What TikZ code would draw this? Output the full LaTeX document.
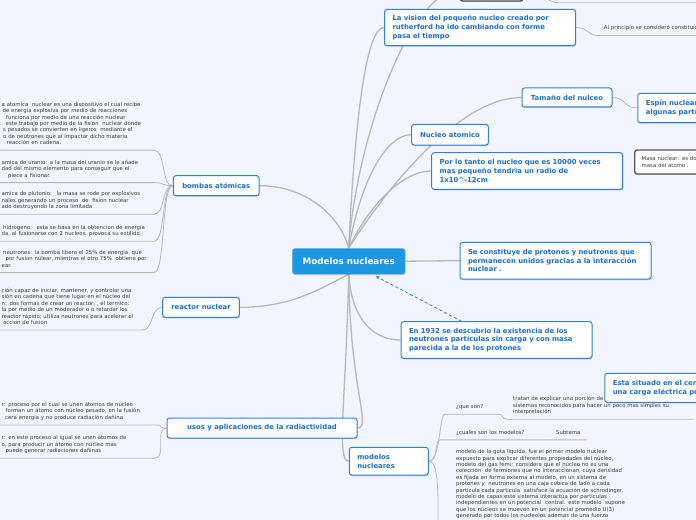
\documentclass[tikz,border=0pt]{standalone}
\usepackage{fontspec}
\setmainfont{DejaVu Sans}
\usetikzlibrary{arrows.meta,backgrounds,shadows}

\definecolor{canvas}{RGB}{242,245,253}
\definecolor{topicline}{RGB}{47,128,226}
\definecolor{topictext}{RGB}{28,110,208}
\definecolor{rootfill}{RGB}{27,151,227}
\definecolor{linkgray}{RGB}{184,184,184}
\definecolor{notetext}{RGB}{60,60,60}
\definecolor{noteline}{RGB}{85,85,85}

\begin{document}
\begin{tikzpicture}[x=1bp,y=-1bp,>=Stealth,line cap=round,line join=round,
    lift/.style={drop shadow={shadow xshift=0.4bp,shadow yshift=-1bp,opacity=0.22,fill=black}},
    root/.style={fill=rootfill,text=white,rounded corners=2.5bp,lift,
      font=\bfseries\fontsize{8.8}{10}\selectfont,minimum width=112.7bp,minimum height=25.7bp},
    topic/.style={draw=topicline,fill=white,line width=1bp,rounded corners=2.5bp,lift,
      text=topictext,font=\bfseries\fontsize{6.9}{8.6}\selectfont,align=left,inner xsep=8bp},
    boxnote/.style={draw=noteline,fill=white,line width=1.4bp,rounded corners=2.5bp,lift,
      text=notetext,font=\fontsize{5.4}{6.4}\selectfont,align=left,inner xsep=7bp},
    leaf/.style={text=notetext,font=\fontsize{5.4}{6.4}\selectfont,align=left,anchor=north west,
      inner xsep=0pt,inner ysep=3.5bp,execute at begin node=\strut,execute at end node=\strut},
    link/.style={draw=linkgray,line width=1.3bp},
    twig/.style={draw=linkgray,line width=0.8bp},
    relation/.style={draw=topicline,line width=0.8bp,dash pattern=on 3bp off 2.5bp,
      -{Stealth[length=4bp,width=3.5bp]}}]
  \useasboundingbox (0,0) rectangle (696,520);

  % central topic
  \node[root] (root) at (348.7,261.2) {Modelos nucleares};

  % right side
  \node[boxnote,minimum width=63bp,minimum height=22bp] (topbox) at (491.5,-10) {};
  \coordinate (topleaf) at (557,2.7);
  \node[topic,text width=175bp,minimum height=36.4bp] (vision) at (480,27.5)
    {La vision del pequeño nucleo creado por\\rutherford ha ido cambiando con forme\\pasa el tiempo};
  \node[leaf,text width=150bp] (principio) at (603.7,21.7)
    {Al principio se consideró constituído por};
  \node[topic,minimum width=90bp,minimum height=19bp] (tamano) at (567,97.5) {Tamaño del nulceo};
  \node[topic,anchor=west,text width=150bp,minimum height=29.4bp] (espin) at (637.3,108)
    {Espín nuclear: es una propiedad de\\algunas partículas};
  \node[topic,minimum width=76.6bp,minimum height=20.7bp] (nucleo) at (450,134.7) {Nucleo atomico};
  \node[topic,text width=175bp,minimum height=36.6bp] (portanto) at (527.2,171)
    {Por lo tanto el nucleo que es 10000 veces\\mas pequeño tendria un radio de\\1x10\textasciicircum-12cm};
  \node[boxnote,anchor=west,text width=150bp,minimum height=24bp] (masa) at (634,162)
    {Masa nuclear: es donde se concentra la\\masa del atomo .};
  \node[topic,text width=175bp,minimum height=36.7bp] (constituye) at (555.5,260.7)
    {Se constituye de protones y neutrones que\\permanecen unidos gracias a la interacción\\nuclear .};
  \node[topic,text width=175bp,minimum height=36.6bp] (en1932) at (496.5,340)
    {En 1932 se descubrio la existencia de los\\neutrones partículas sin carga y con masa\\parecida a la de los protones};

  % modelos nucleares and its leaves
  \node[topic,text width=63bp,minimum height=27.7bp] (modelos) at (388.8,461.2) {modelos\\nucleares};
  \node[leaf,text width=42bp] (queson) at (456,400.4) {¿que son?};
  \node[leaf,text width=180bp] (tratan) at (513,392.7)
    {tratan de explicar una porción de los\\sistemas reconocidos para hacer un poco mas simples su\\interpretación};
  \node[leaf,text width=76bp] (cuales) at (456,426.1) {¿cuales son los modelos?};
  \node[leaf,text width=30bp] (subtema) at (556,426.1) {Subtema};
  \node[leaf,text width=205bp] (gota) at (456,445.7)
    {modelo de la gota liquida, fue el primer modelo nuclear\\
     expuesto para explicar diferentes propiedades del núcleo,\\
     modelo del gas femi: considera que el núcleo no es una\\
     colección \ de fermiones que no interaccionan, cuya densidad\\
     es fijada en forma externa al modelo, en un sistema de\\
     protones y \ neutrones en una caja cubica de lado a cada\\
     particula cada particula \ satisface la ecuación de schrodinger.\\
     modelo de capas:este sistema interactúa por particulas\\
     independientes en un potencial \ central. este modelo \ supone\\
     que los núcleos se mueven en un potencial promedio U(3)\\
     generado por todos los nucleolos ademas de una fuerza};
  \node[topic,anchor=west,text width=200bp,minimum height=29bp] (situado) at (604.3,387.8)
    {Esta situado en el centro del átomo y tiene\\una carga eléctrica positiva};

  % left side
  \node[topic,minimum width=85.7bp,minimum height=20bp] (bombas) at (216.2,185.7) {bombas atómicas};
  \node[leaf,text width=152bp] (bombA) at (1.5,98.1)
    {a atomica \ nuclear es una dispositivo el cual recibe\\
     \hspace*{1bp}de energia explosiva por medio de reacciones\\
     \hspace*{4.5bp}funciona por medio de una reacción nuclear\\
     \hspace*{4bp}este trabajo por medio de la fision \ nuclear donde\\
     \hspace*{1.5bp}s pesados se convierten en ligeros \ mediante el\\
     \hspace*{1.5bp}o de neutrones que al impactar dicho materia\\
     \hspace*{5bp}reacción en cadena.};
  \node[leaf,text width=152bp] (bombB) at (1.5,156.1)
    {amica de uranio: a la masa del uranio se le añade\\
     dad del mismo elemento para conseguir que el\\
     \hspace*{6.5bp}piece a fisionar.};
  \node[leaf,text width=152bp] (bombC) at (1.5,187.7)
    {amica de plutonio: \ la masa se rode por explosivos\\
     nales generando un proceso \ de \ fision nuclear\\
     ado destruyendo la zona limitada};
  \node[leaf,text width=152bp] (bombD) at (1.5,221.1)
    {\hspace*{1.5bp}hidrogeno: \ esta se basa en la obtencion de energia\\
     da, al fusionarse con 2 nucleos \ provoca su estilido};
  \node[leaf,text width=152bp] (bombE) at (1.5,246.1)
    {\hspace*{1.5bp}neutrones: la bomba libera el 25\% de energia \ que\\
     \hspace*{4bp}por fusion nulear, mientras el otro 75\% \ obtiene por\\
     ear.};
  \node[topic,minimum width=76.6bp,minimum height=20bp] (reactor) at (201,307.3) {reactor nuclear};
  \node[leaf,text width=140bp] (fision) at (1.5,284.4)
    {ción capaz de iniciar, mantener, y controlar una\\
     sión en cadena que tiene lugar en el núcleo del\\
     n: dos formas de crear un reactor, , el termico:\\
     la por medio de un moderador o o retardar los\\
     reactor rápido; utiliza neutrones para acelerar el\\
     \hspace*{1.5bp}accion de fusion};
  \node[topic,minimum width=190bp,minimum height=20bp] (usos) at (262,428)
    {usos y aplicaciones de la radiactividad};
  \node[leaf,text width=153bp] (fusionA) at (1.5,398.4)
    {r: proceso por el cual se unen átomos de núcleo\\
     \hspace*{4bp}forman un átomo con núcleo pesado, en la fusión\\
     \hspace*{3.5bp}cera energia y no produce radiación dañina};
  \node[leaf,text width=153bp] (fusionB) at (1.5,431.7)
    {r: en este proceso al igual se unen átomos de\\
     o, para producir un átomo con núcleo mas\\
     \hspace*{4bp}puede generar radiaciones dañinas};

  \begin{pgfonlayer}{background}
    \fill[canvas] (0,0) rectangle (696,520);
    % branches of the central topic
    \path[link] (root.north) .. controls (354,140) and (364,28) .. (vision.west);
    \path[link] (root.north) .. controls (356,140) and (410,-10) .. (topbox.west);
    \path[link] (root.north) .. controls (362,175) and (388,134.7) .. (nucleo.west);
    \path[link] (root.north) .. controls (392,180) and (462,97.5) .. (tamano.west);
    \path[link] (root.north) .. controls (372,200) and (405,171) .. (portanto.west);
    \path[link] (root.east) -- (constituye.west);
    \path[link] (root.south) .. controls (352,325) and (378,340) .. (en1932.west);
    \path[link] (root.south) .. controls (350,390) and (372,428) .. (usos.east);
    \path[link] (root.south) .. controls (346,400) and (336,461.2) .. (modelos.west);
    \path[link] (bombas.east) .. controls (305,185.7) and (340,215) .. (root.north);
    \path[link] (reactor.east) .. controls (290,307.3) and (318,290) .. (root.south);
    % smaller branches
    \path[twig] (topbox.east) .. controls +(14,0) and +(-8,0) .. (topleaf) -- ++(150,0);
    \path[twig] (vision.east) .. controls +(12,0) and +(-10,0) .. ([xshift=-6bp]principio.south west)
      -- (principio.south east);
    \path[twig] (tamano.east) .. controls +(14,0) and +(-14,0) .. (espin.west);
    \path[twig] (modelos.east) .. controls +(12,0) and +(-6,0) .. ([xshift=-11bp]queson.south west)
      -- (queson.south east);
    \path[twig] (queson.south east) .. controls +(6,0) and +(-6,0) .. ([xshift=-6bp]tratan.south west)
      -- (tratan.south east);
    \path[twig] (modelos.east) .. controls +(10,0) and +(-6,0) .. ([xshift=-16bp]cuales.south west)
      -- (cuales.south east) -- ([xshift=-3bp]subtema.south west) -- (subtema.south east);
    \path[twig] (modelos.east) .. controls +(10,0) and +(0,-30) .. ([xshift=-18bp]gota.south west);
    \foreach \leafname in {bombA,bombB,bombC,bombD,bombE}
      \path[twig] (bombas.west) .. controls +(-12,0) and +(12,0) .. (\leafname.south east)
        -- ([xshift=-5bp]\leafname.south west);
    \path[twig] (reactor.west) .. controls +(-12,0) and +(12,0) .. (fision.south east)
      -- ([xshift=-5bp]fision.south west);
    \foreach \leafname in {fusionA,fusionB}
      \path[twig] (usos.west) .. controls +(-12,0) and +(12,0) .. (\leafname.south east)
        -- ([xshift=-5bp]\leafname.south west);
  \end{pgfonlayer}

  \draw[relation] ([xshift=-35bp]en1932.north) -- ([xshift=27bp,yshift=-2bp]root.south);
\end{tikzpicture}
\end{document}
